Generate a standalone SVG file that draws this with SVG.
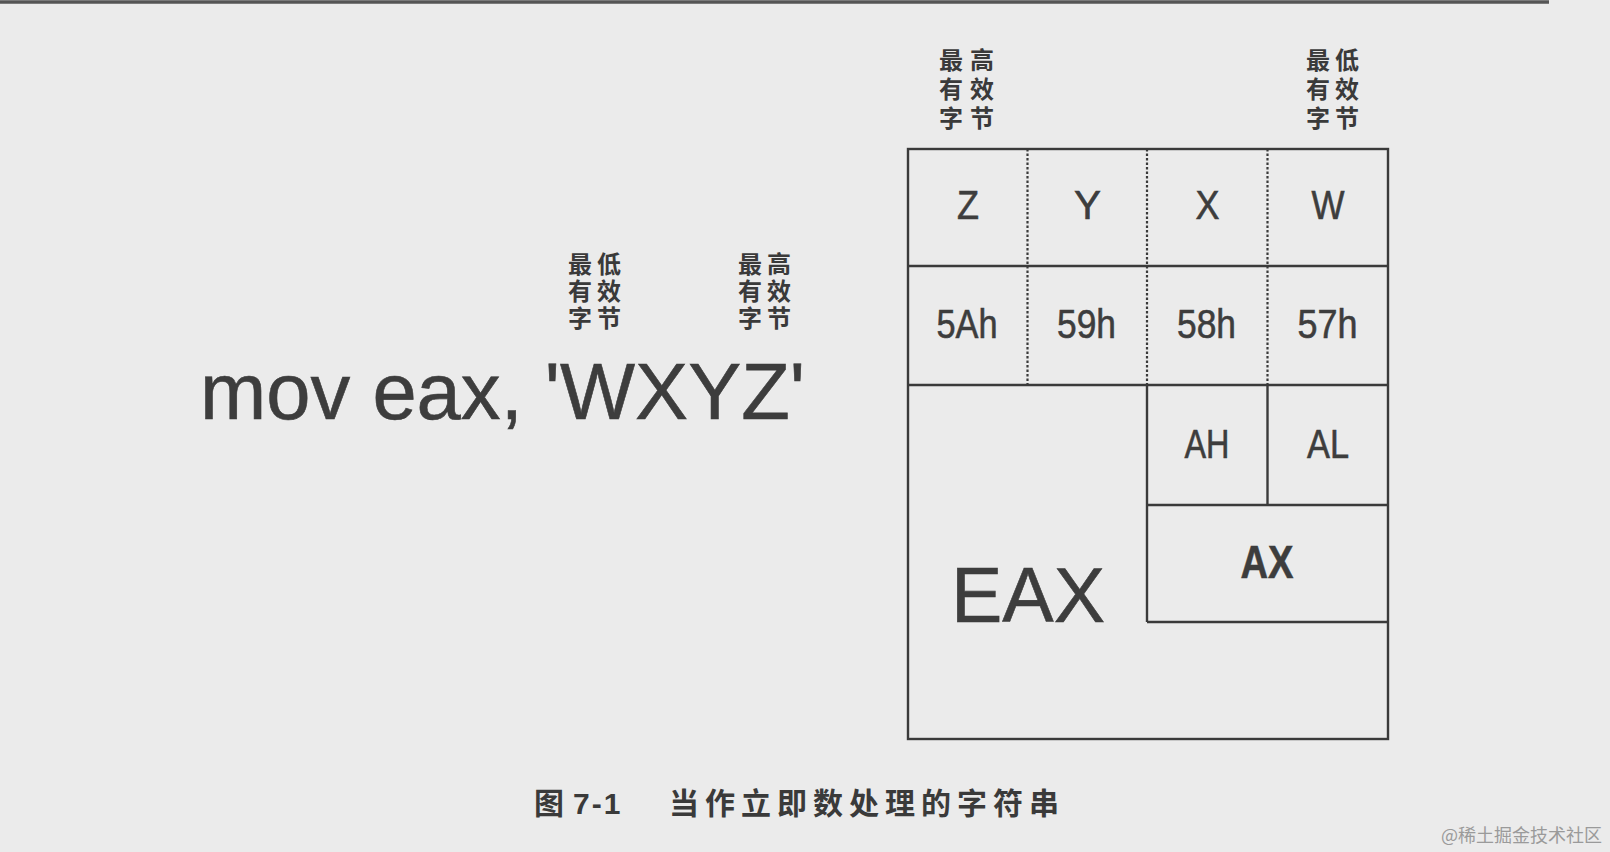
<svg xmlns="http://www.w3.org/2000/svg" width="1610" height="852" viewBox="0 0 1610 852">
<style>
.bg{fill:#ebebeb}
.solid{stroke:#3a3a3a;stroke-width:2.4;fill:none}
.dot{stroke:#3a3a3a;stroke-width:2.2;fill:none;stroke-dasharray:2.5 2}
.lat{font-family:"Liberation Sans",Arial,sans-serif;fill:#3d3d3d;stroke:#3d3d3d;stroke-width:0.6}
.cell{font-size:40px;text-anchor:middle}
.cjk{font-family:"Liberation Sans","Noto Sans CJK SC","Noto Sans CJK JP",sans-serif;fill:#3a3a3a;font-size:24px;font-weight:bold}
.cjl{letter-spacing:5px}
.cjt{letter-spacing:7px}
.cap{font-family:"Noto Sans CJK SC","Liberation Sans",sans-serif;fill:#3a3a3a;font-size:30px;font-weight:bold}
.wm{font-family:"Noto Sans CJK SC",sans-serif;fill:#9a9a9a;font-size:18px;text-anchor:end}
</style>
<rect class="bg" x="0" y="0" width="1610" height="852"/>
<line x1="0" y1="2" x2="1549" y2="2" stroke="#555" stroke-width="3.5"/>

<g id="connectors">
  <rect class="solid" x="908" y="149" width="480" height="590"/>
  <line class="solid" x1="908" y1="266" x2="1388" y2="266"/>
  <line class="solid" x1="908" y1="385" x2="1388" y2="385"/>
  <line class="dot" x1="1027.5" y1="149" x2="1027.5" y2="385"/>
  <line class="dot" x1="1147" y1="149" x2="1147" y2="385"/>
  <line class="dot" x1="1267.5" y1="149" x2="1267.5" y2="385"/>
  <line class="solid" x1="1147" y1="385" x2="1147" y2="622"/>
  <line class="solid" x1="1267.5" y1="385" x2="1267.5" y2="505"/>
  <line class="solid" x1="1147" y1="505" x2="1388" y2="505"/>
  <line class="solid" x1="1147" y1="622" x2="1388" y2="622"/>
</g>

<g id="instruction">
  <text class="lat" x="200" y="419" font-size="79" fill="#474747" stroke="#474747" textLength="605" lengthAdjust="spacingAndGlyphs">mov eax, 'WXYZ'</text>
</g>

<g id="label-lsb-left">
  <text class="cjk cjl"><tspan x="568" y="273">最低</tspan><tspan x="568" y="300">有效</tspan><tspan x="568" y="327">字节</tspan></text>
</g>
<g id="label-msb-left">
  <text class="cjk cjl"><tspan x="738" y="273">最高</tspan><tspan x="738" y="300">有效</tspan><tspan x="738" y="327">字节</tspan></text>
</g>
<g id="label-msb-top">
  <text class="cjk cjt"><tspan x="939" y="69">最高</tspan><tspan x="939" y="98">有效</tspan><tspan x="939" y="127">字节</tspan></text>
</g>
<g id="label-lsb-top">
  <text class="cjk cjl"><tspan x="1306" y="69">最低</tspan><tspan x="1306" y="98">有效</tspan><tspan x="1306" y="127">字节</tspan></text>
</g>

<g id="cell-z"><text class="lat cell" x="968" y="219" textLength="22" lengthAdjust="spacingAndGlyphs">Z</text></g>
<g id="cell-y"><text class="lat cell" x="1087.5" y="219" textLength="27" lengthAdjust="spacingAndGlyphs">Y</text></g>
<g id="cell-x"><text class="lat cell" x="1207.5" y="219" textLength="24" lengthAdjust="spacingAndGlyphs">X</text></g>
<g id="cell-w"><text class="lat cell" x="1328" y="219" textLength="33" lengthAdjust="spacingAndGlyphs">W</text></g>

<g id="cell-5ah"><text class="lat cell" x="967" y="338" textLength="61" lengthAdjust="spacingAndGlyphs">5Ah</text></g>
<g id="cell-59h"><text class="lat cell" x="1086.5" y="338" textLength="59" lengthAdjust="spacingAndGlyphs">59h</text></g>
<g id="cell-58h"><text class="lat cell" x="1206.5" y="338" textLength="59" lengthAdjust="spacingAndGlyphs">58h</text></g>
<g id="cell-57h"><text class="lat cell" x="1327.5" y="338" textLength="60" lengthAdjust="spacingAndGlyphs">57h</text></g>

<g id="cell-ah"><text class="lat cell" x="1207" y="458" font-size="41" textLength="45" lengthAdjust="spacingAndGlyphs">AH</text></g>
<g id="cell-al"><text class="lat cell" x="1328" y="458" font-size="41" textLength="42" lengthAdjust="spacingAndGlyphs">AL</text></g>
<g id="cell-ax"><text class="lat" x="1267" y="578" font-size="47" font-weight="bold" text-anchor="middle" textLength="53" lengthAdjust="spacingAndGlyphs">AX</text></g>
<g id="cell-eax"><text class="lat" x="951" y="622" font-size="77" fill="#3a3a3a" stroke="#3a3a3a">EAX</text></g>

<g id="caption">
  <text class="cap" y="814"><tspan x="534">图</tspan><tspan x="573" font-family="Liberation Sans,Arial,sans-serif" letter-spacing="2">7-1</tspan><tspan x="669" letter-spacing="6">当作立即数处理的字符串</tspan></text>
</g>

<g id="watermark">
  <text class="wm" x="1602" y="842">@稀土掘金技术社区</text>
</g>
</svg>
